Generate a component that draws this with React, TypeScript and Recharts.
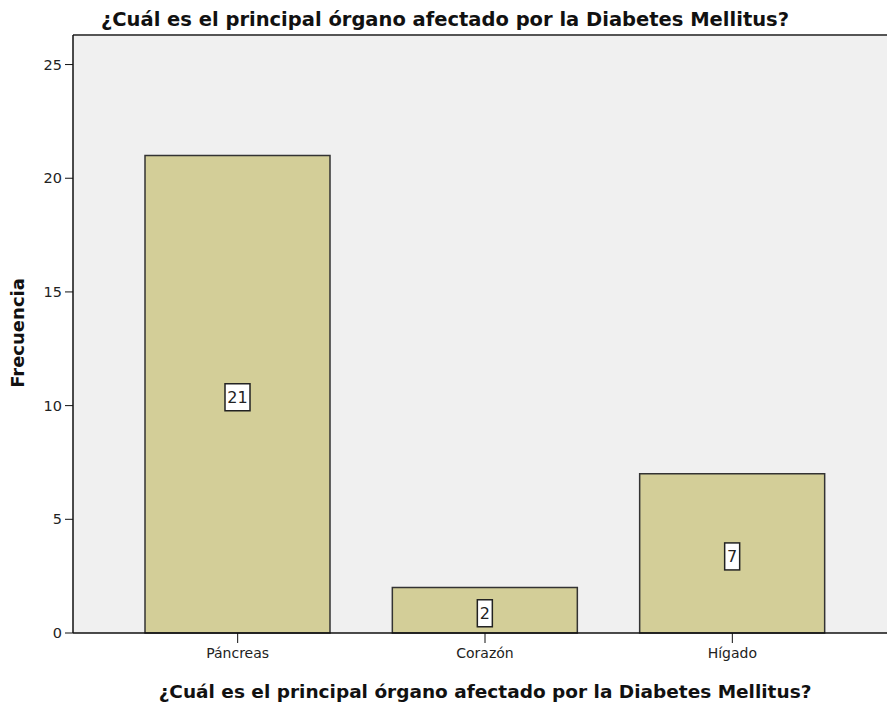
import React from 'react';
import { BarChart, Bar, XAxis, YAxis, CartesianGrid, LabelList, ReferenceLine } from 'recharts';

const categories = ['Páncreas', 'Corazón', 'Hígado'];
const frequencies = [21, 2, 7];
const yTicks = [0, 5, 10, 15, 20, 25];
const chartTitle = '¿Cuál es el principal órgano afectado por la Diabetes Mellitus?';
const xTitle = '¿Cuál es el principal órgano afectado por la Diabetes Mellitus?';
const yTitle = 'Frecuencia';

const data = categories.map((c, i) => ({ name: c, value: frequencies[i] }));

const FONT = '"DejaVu Sans", Verdana, sans-serif';
const Y_MAX = 26.3;

const BoxLabel = (props: any) => {
  const { x, y, width, height, value } = props;
  const cx = x + width / 2;
  const cy = y + height / 2 + 3;
  const w = String(value).length * 10 + 5;
  return (
    <g>
      <rect x={cx - w / 2} y={cy - 13.5} width={w} height={27} fill="#ffffff" stroke="#222" strokeWidth={1.5} />
      <text x={cx} y={cy + 6} textAnchor="middle" fontSize={16} fill="#222" fontFamily={FONT}>
        {value}
      </text>
    </g>
  );
};

export default function App() {
  return (
    <div style={{ position: 'absolute', left: 0, top: 0, width: 887, height: 702, background: '#fff' }}>
      <BarChart width={887} height={702} data={data} margin={{ top: 35, right: 0, bottom: 29, left: 0 }} barSize={185}>
        <CartesianGrid horizontal={false} vertical={false} fill="#F0F0F0" stroke="none" />
        <XAxis
          dataKey="name"
          height={40}
          padding={{ left: 41, right: 31 }}
          tickSize={10}
          tickMargin={5}
          axisLine={{ stroke: '#111', strokeWidth: 1.5 }}
          tickLine={{ stroke: '#111' }}
          tick={{ fontSize: 14, fill: '#222', fontFamily: FONT }}
        />
        <YAxis
          width={73}
          domain={[0, Y_MAX]}
          ticks={yTicks}
          tickSize={8}
          tickMargin={3}
          axisLine={{ stroke: '#111', strokeWidth: 1.5 }}
          tickLine={{ stroke: '#111' }}
          tick={{ fontSize: 14.5, fill: '#222', fontFamily: FONT }}
        />
        <ReferenceLine y={Y_MAX} stroke="#555" strokeWidth={2} />
        <Bar dataKey="value" fill="#D3CE98" stroke="#333" strokeWidth={1.5} isAnimationActive={false}>
          <LabelList dataKey="value" content={<BoxLabel />} />
        </Bar>
      </BarChart>
      <svg width={887} height={702} style={{ position: 'absolute', left: 0, top: 0, pointerEvents: 'none' }}>
        <text x={445} y={26} textAnchor="middle" fontSize={19.5} fontWeight="bold" fill="#111" fontFamily={FONT}>
          {chartTitle}
        </text>
        <text x={485} y={698} textAnchor="middle" fontSize={18.5} fontWeight="bold" fill="#111" fontFamily={FONT}>
          {xTitle}
        </text>
        <text x={24} y={333} textAnchor="middle" fontSize={18} fontWeight="bold" fill="#111" fontFamily={FONT} transform="rotate(-90 24 333)">
          {yTitle}
        </text>
      </svg>
    </div>
  );
}
